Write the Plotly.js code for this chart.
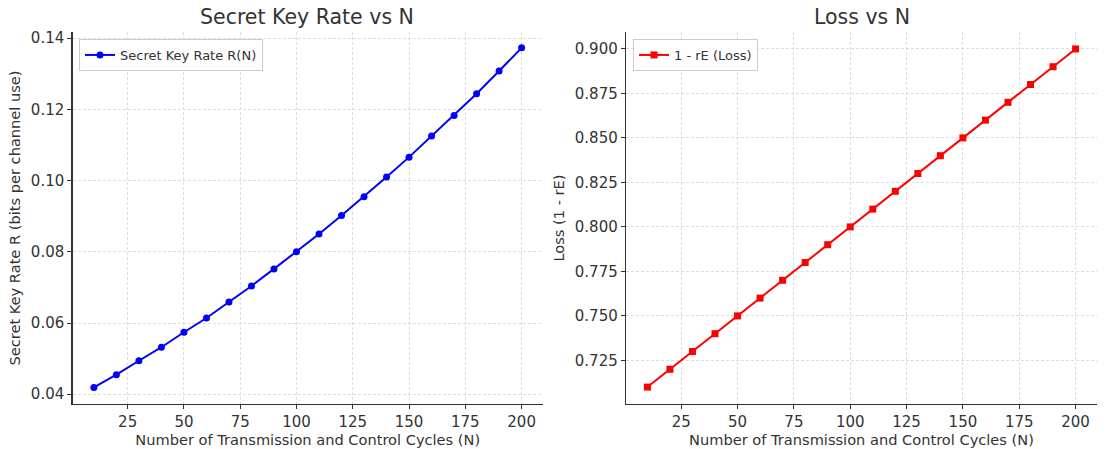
<!DOCTYPE html>
<html>
<head>
<meta charset="utf-8">
<script src="https://cdn.plot.ly/plotly-3.0.1.min.js"></script>
<style>html,body{margin:0;padding:0;background:#fff;}#chart{width:1109px;height:449px;}</style>
</head>
<body>
<div id="chart"></div>
<script>
const cycles = [10,20,30,40,50,60,70,80,90,100,110,120,130,140,150,160,170,180,190,200];
const keyRate = [0.0419,0.0455,0.0494,0.0532,0.0574,0.0614,0.0659,0.0704,0.0752,0.0800,0.0850,0.0902,0.0955,0.1010,0.1066,0.1125,0.1183,0.1244,0.1308,0.1373];
const loss = [0.71,0.72,0.73,0.74,0.75,0.76,0.77,0.78,0.79,0.80,0.81,0.82,0.83,0.84,0.85,0.86,0.87,0.88,0.89,0.90];
const xTicks = [25,50,75,100,125,150,175,200];
const yTicksLeft = [0.04,0.06,0.08,0.10,0.12,0.14];
const yTicksRight = [0.725,0.750,0.775,0.800,0.825,0.850,0.875,0.900];

const FONT = 'DejaVu Sans, sans-serif';
const TXT = '#333333';
const W = 1109, H = 449;

const traces = [
  {x: cycles, y: keyRate, type:'scatter', mode:'lines+markers', name:'Secret Key Rate R(N)',
   line:{color:'#0000ff', width:2}, marker:{color:'#0000ff', size:7, symbol:'circle'},
   xaxis:'x', yaxis:'y', legend:'legend'},
  {x: cycles, y: loss, type:'scatter', mode:'lines+markers', name:'1 - rE (Loss)',
   line:{color:'#ff0000', width:2}, marker:{color:'#ff0000', size:7, symbol:'square'},
   xaxis:'x2', yaxis:'y2', legend:'legend2'}
];

function xax(domain, anchor){
  return {domain: domain, anchor: anchor, range:[0.5,209.5], tickvals:xTicks,
    showline:true, linecolor:'#333', linewidth:1.25, mirror:false,
    ticks:'outside', ticklen:4, tickcolor:'#333', tickwidth:1,
    showgrid:true, gridcolor:'#d4d4d4', griddash:'3px,2px', gridwidth:0.8, zeroline:false,
    tickfont:{family:FONT, size:15, color:TXT},
    title:{text:'Number of Transmission and Control Cycles (N)', font:{family:FONT, size:14.6, color:TXT}, standoff:3}};
}
function yax(domain, anchor, range, ticks, fmt, title){
  return {domain: domain, anchor: anchor, range: range, tickvals: ticks, tickformat: fmt,
    showline:true, linecolor:'#333', linewidth:1.25, mirror:false,
    ticks:'outside', ticklen:4, tickcolor:'#333', tickwidth:1,
    showgrid:true, gridcolor:'#d4d4d4', griddash:'3px,2px', gridwidth:0.8, zeroline:false,
    tickfont:{family:FONT, size:15, color:TXT},
    title:{text:title, font:{family:FONT, size:14.6, color:TXT}, standoff:6}};
}

const yDom = [1-404/H, 1-32/H];
const layout = {
  width: W, height: H,
  margin:{l:0, r:0, t:0, b:0},
  paper_bgcolor:'#ffffff', plot_bgcolor:'#ffffff',
  showlegend:true,
  xaxis: xax([72.5/W, 543/W], 'y'),
  yaxis: yax(yDom, 'x', [0.03725,0.14175], yTicksLeft, '.2f', 'Secret Key Rate R (bits per channel use)'),
  xaxis2: xax([626/W, 1097/W], 'y2'),
  yaxis2: yax(yDom, 'x2', [0.7005,0.9095], yTicksRight, '.3f', 'Loss (1 - rE)'),
  legend:{x:79/W, y:1-39/H, xanchor:'left', yanchor:'top', bgcolor:'rgba(255,255,255,0.9)',
    bordercolor:'#cccccc', borderwidth:1, font:{family:FONT, size:13, color:TXT}},
  legend2:{x:633/W, y:1-39/H, xanchor:'left', yanchor:'top', bgcolor:'rgba(255,255,255,0.9)',
    bordercolor:'#cccccc', borderwidth:1, font:{family:FONT, size:13, color:TXT}},
  annotations:[
    {text:'Secret Key Rate vs N', xref:'paper', yref:'paper', x:307.5/W, y:1-17/H,
     xanchor:'center', yanchor:'middle', showarrow:false, font:{family:FONT, size:20.5, color:TXT}},
    {text:'Loss vs N', xref:'paper', yref:'paper', x:861.5/W, y:1-17/H,
     xanchor:'center', yanchor:'middle', showarrow:false, font:{family:FONT, size:20.5, color:TXT}}
  ]
};

Plotly.newPlot('chart', traces, layout, {displayModeBar:false, staticPlot:true});
</script>
</body>
</html>
